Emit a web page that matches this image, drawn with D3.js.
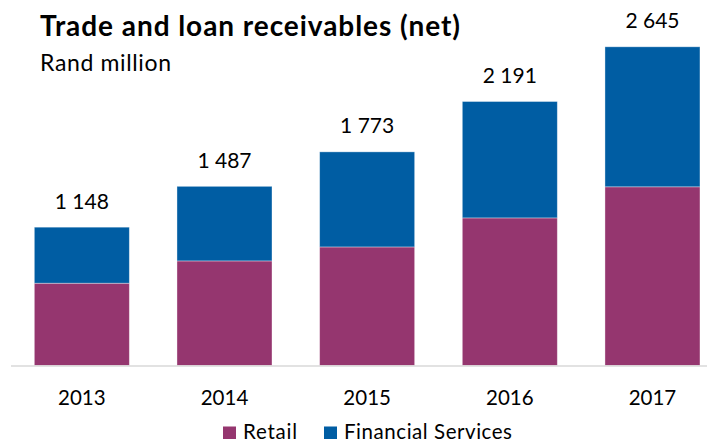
<!DOCTYPE html>
<html>
<head>
<meta charset="utf-8">
<script src="https://cdn.jsdelivr.net/npm/d3@7"></script>
<style>
  html, body { margin: 0; padding: 0; background: #fff; }
  svg { display: block; font-family: Lato, "Open Sans", sans-serif; }
</style>
</head>
<body>
<svg id="chart" width="707" height="441"></svg>
<script>
// Trade and loan receivables (net), Rand million
const years = ["2013", "2014", "2015", "2016", "2017"];
const retail = [683, 868, 984, 1225, 1483];
const financialServices = [465, 619, 789, 966, 1162];
const totals = [1148, 1487, 1773, 2191, 2645];
const totalLabels = ["1 148", "1 487", "1 773", "2 191", "2 645"];
const seriesNames = ["Retail", "Financial Services"];
const seriesColors = ["#95366F", "#005DA3"];

const svg = d3.select("#chart");

const baseY = 365.5;
const x = d3.scaleBand()
  .domain(years)
  .range([10.5, 723.8])
  .paddingInner(0.334)
  .paddingOuter(0.167);

const y = d3.scaleLinear()
  .domain([0, 2645])
  .range([baseY, 46.8]);

const rows = years.map((yr, i) => ({ year: yr, Retail: retail[i], "Financial Services": financialServices[i] }));
const stacked = d3.stack().keys(seriesNames)(rows);

const color = d3.scaleOrdinal().domain(seriesNames).range(seriesColors);

// stacked bars
svg.append("g")
  .selectAll("g")
  .data(stacked)
  .join("g")
  .attr("fill", d => color(d.key))
  .selectAll("rect")
  .data(d => d)
  .join("rect")
  .attr("x", d => x(d.data.year))
  .attr("width", x.bandwidth())
  .attr("y", d => y(d[1]))
  .attr("height", d => y(d[0]) - y(d[1]))
  .attr("stroke", "rgba(255,255,255,0.45)")
  .attr("stroke-width", 0.8);

// baseline axis
const xAxis = d3.axisBottom(x).tickSize(0).tickPadding(24);
const axisG = svg.append("g")
  .attr("transform", `translate(0,${baseY + 0.5})`)
  .call(xAxis);
axisG.select(".domain").remove();
axisG.append("line")
  .attr("x1", 11).attr("x2", 707)
  .attr("y1", 0).attr("y2", 0)
  .attr("stroke", "#d9d9d9").attr("stroke-width", 1.5);
axisG.selectAll(".tick text")
  .attr("font-family", "Lato, sans-serif")
  .attr("font-size", 20.5)
  .attr("fill", "#000");

// total labels
svg.append("g")
  .selectAll("text")
  .data(years)
  .join("text")
  .attr("x", d => x(d) + x.bandwidth() / 2)
  .attr("y", (d, i) => y(totals[i]) - 18.5)
  .attr("text-anchor", "middle")
  .attr("font-size", 21)
  .attr("fill", "#000")
  .text((d, i) => totalLabels[i]);

// title and subtitle
svg.append("text")
  .attr("x", 40).attr("y", 35.5)
  .attr("font-size", 28)
  .attr("font-weight", "bold")
  .attr("fill", "#000")
  .attr("textLength", 420)
  .attr("lengthAdjust", "spacing")
  .text("Trade and loan receivables (net)");
svg.append("text")
  .attr("x", 40).attr("y", 70.5)
  .attr("font-size", 23)
  .attr("fill", "#000")
  .attr("textLength", 131)
  .attr("lengthAdjust", "spacing")
  .text("Rand million");

// legend
const legendX = [223, 324];
const legendTextLen = [54, 168];
const legend = svg.append("g")
  .selectAll("g")
  .data(seriesNames)
  .join("g")
  .attr("transform", (d, i) => `translate(${legendX[i]},0)`);
legend.append("rect")
  .attr("x", 0).attr("y", 426.5)
  .attr("width", 13).attr("height", 12.5)
  .attr("fill", d => color(d));
legend.append("text")
  .attr("x", 20).attr("y", 438.5)
  .attr("font-size", 20.5)
  .attr("fill", "#000")
  .attr("textLength", (d, i) => legendTextLen[i])
  .attr("lengthAdjust", "spacing")
  .text(d => d);
</script>
</body>
</html>
